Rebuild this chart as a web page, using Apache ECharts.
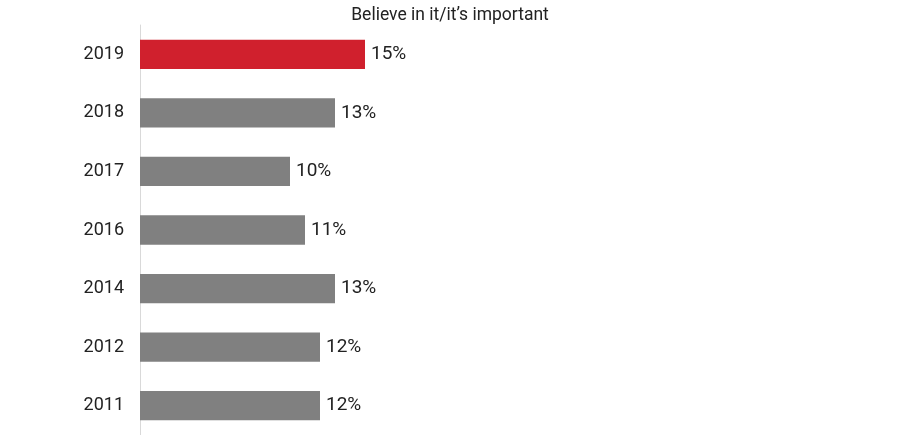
<!DOCTYPE html>
<html><head><meta charset="utf-8">
<script src="https://cdn.jsdelivr.net/npm/echarts@6/dist/echarts.min.js"></script>
<style>html,body{margin:0;padding:0;background:#fff}#c{width:900px;height:435px}</style>
</head><body><div id="c"></div>
<script>
var categories = ['2019','2018','2017','2016','2014','2012','2011'];
var values = [15,13,10,11,13,12,12];
var barColors = ['#d0202d','#808080','#808080','#808080','#808080','#808080','#808080'];
var titleText = 'Believe in it/it\u2019s important';

var chart = echarts.init(document.getElementById('c'));
chart.setOption({
  animation:false,
  title:{text:titleText,left:'center',top:2,textStyle:{fontFamily:'Roboto',fontSize:17.5,fontWeight:'normal',color:'#222'}},
  grid:{left:140,right:10,top:25,bottom:0,containLabel:false},
  xAxis:{type:'value',min:0,max:50,show:false},
  yAxis:{type:'category',data:categories,inverse:true,
    axisLine:{show:true,lineStyle:{color:'#d9d9d9',width:1}},
    axisTick:{show:false},
    axisLabel:{margin:16,fontFamily:'Roboto',fontSize:18,color:'#222'}},
  series:[{type:'bar',barCategoryGap:'50%',
    data:values.map(function(v,i){return {value:v,itemStyle:{color:barColors[i]}};}),
    label:{show:true,position:'right',distance:6,formatter:'{c}%',fontFamily:'Roboto',fontSize:19,color:'#222'}}]
});
</script></body></html>
